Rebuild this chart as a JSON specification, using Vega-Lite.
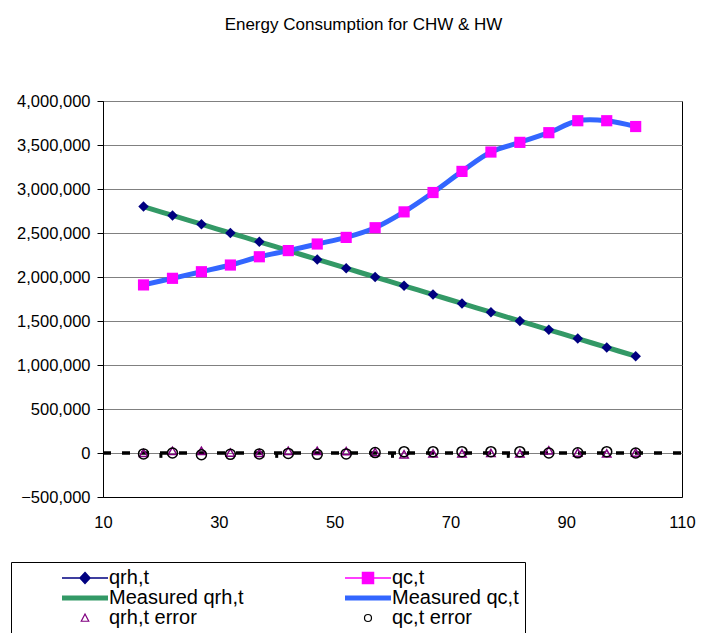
{
  "$schema": "https://vega.github.io/schema/vega-lite/v6.json",
  "width": 579,
  "height": 396,
  "autosize": {"type": "none"},
  "padding": {"left": 103, "top": 101, "right": 23, "bottom": 136},
  "background": "white",
  "config": {
    "font": "Liberation Sans",
    "view": {"stroke": "#000", "strokeWidth": 1},
    "axis": {"labelFontSize": 16.5, "labelColor": "#000", "domainColor": "#000", "tickColor": "#000", "labelFont": "Liberation Sans"}
  },
  "title": {"text": "Energy Consumption for CHW & HW", "fontSize": 17, "fontWeight": "normal", "color": "#000", "offset": 59, "dx": -29, "anchor": "middle", "font": "Liberation Sans"},
  "datasets": {
    "main": [
      {"x": 17, "qrh": 2800000, "qc": 1910000, "qrh_err": 0, "qc_err": -10000},
      {"x": 22, "qrh": 2700000, "qc": 1985000, "qrh_err": 25000, "qc_err": 0},
      {"x": 27, "qrh": 2600000, "qc": 2060000, "qrh_err": 25000, "qc_err": -20000},
      {"x": 32, "qrh": 2500000, "qc": 2136000, "qrh_err": 5000, "qc_err": -15000},
      {"x": 37, "qrh": 2400000, "qc": 2230000, "qrh_err": 0, "qc_err": -10000},
      {"x": 42, "qrh": 2300000, "qc": 2300000, "qrh_err": 25000, "qc_err": -5000},
      {"x": 47, "qrh": 2200000, "qc": 2375000, "qrh_err": 25000, "qc_err": -15000},
      {"x": 52, "qrh": 2100000, "qc": 2450000, "qrh_err": 20000, "qc_err": -10000},
      {"x": 57, "qrh": 2000000, "qc": 2560000, "qrh_err": 10000, "qc_err": 5000},
      {"x": 62, "qrh": 1900000, "qc": 2740000, "qrh_err": -15000, "qc_err": 15000},
      {"x": 67, "qrh": 1800000, "qc": 2960000, "qrh_err": -5000, "qc_err": 15000},
      {"x": 72, "qrh": 1700000, "qc": 3200000, "qrh_err": -5000, "qc_err": 15000},
      {"x": 77, "qrh": 1600000, "qc": 3420000, "qrh_err": 0, "qc_err": 15000},
      {"x": 82, "qrh": 1500000, "qc": 3530000, "qrh_err": -5000, "qc_err": 15000},
      {"x": 87, "qrh": 1400000, "qc": 3640000, "qrh_err": 30000, "qc_err": 0},
      {"x": 92, "qrh": 1300000, "qc": 3776000, "qrh_err": 5000, "qc_err": 2000},
      {"x": 97, "qrh": 1200000, "qc": 3776000, "qrh_err": -5000, "qc_err": 15000},
      {"x": 102, "qrh": 1100000, "qc": 3710000, "qrh_err": 5000, "qc_err": 0}
    ],
    "zero": [{"x": 10, "y": 0}, {"x": 110, "y": 0}],
    "ticks": [{"x": 20}, {"x": 40}, {"x": 60}, {"x": 80}]
  },
  "encoding": {
    "x": {
      "field": "x", "type": "quantitative", "title": null,
      "scale": {"domain": [10, 110], "nice": false, "zero": false},
      "axis": {"orient": "bottom", "values": [10, 30, 50, 70, 90, 110], "grid": false, "ticks": false, "labelPadding": 17, "labelFlush": false}
    }
  },
  "layer": [
    {
      "data": {"name": "main"},
      "mark": {"type": "line", "interpolate": "catmull-rom", "strokeWidth": 5},
      "encoding": {
        "y": {
          "field": "qrh", "type": "quantitative", "title": null,
          "scale": {"domain": [-500000, 4000000], "nice": false, "zero": false},
          "axis": {"values": [-500000, 0, 500000, 1000000, 1500000, 2000000, 2500000, 3000000, 3500000, 4000000], "format": ",d", "gridColor": "#808080", "gridWidth": 1, "gridOpacity": 1, "tickSize": 6, "labelPadding": 7}
        },
        "color": {
          "datum": "Measured qrh,t",
          "scale": {
            "domain": ["qrh,t", "qc,t", "Measured qrh,t", "Measured qc,t", "qrh,t error", "qc,t error"],
            "range": ["#000080", "#ff00ff", "#339966", "#3366ff", "#800080", "#000000"]
          },
          "legend": {
            "title": null, "orient": "none", "legendX": -92, "legendY": 461,
            "columns": 2, "direction": "horizontal",
            "symbolSize": 100, "symbolOffset": 58, "labelOffset": 14,
            "labelFontSize": 20, "labelColor": "#000", "labelFont": "Liberation Sans", "labelLimit": 0,
            "rowPadding": -2, "columnPadding": 56, "padding": 6,
            "strokeColor": "#000", "fillColor": "#fff",
            "encode": {
              "symbols": {
                "update": {
                  "shape": {"signal": "datum.value == 'qrh,t' ? 'M-4.6,0H4.6M0,-1.1L1,0L0,1.1L-1,0Z' : datum.value == 'qc,t' ? 'M-4.6,0H4.6M-1.1,-1.1H1.1V1.1H-1.1Z' : datum.value == 'qrh,t error' ? 'M0,-0.8L0.75,0.65L-0.75,0.65Z' : datum.value == 'qc,t error' ? 'M-0.7,0A0.7,0.7,0,1,0,0.7,0A0.7,0.7,0,1,0,-0.7,0Z' : 'M-4.6,0H4.6'"},
                  "fill": {"signal": "datum.value == 'qrh,t' ? '#000080' : datum.value == 'qc,t' ? '#ff00ff' : '#ffffff'"},
                  "fillOpacity": {"signal": "datum.value == 'qrh,t' || datum.value == 'qc,t' ? 1 : 0"},
                  "stroke": {"signal": "datum.value == 'qrh,t' ? '#000080' : datum.value == 'qc,t' ? '#ff00ff' : datum.value == 'Measured qrh,t' ? '#339966' : datum.value == 'Measured qc,t' ? '#3366ff' : datum.value == 'qrh,t error' ? '#800080' : '#000000'"},
                  "strokeWidth": {"signal": "datum.value == 'Measured qrh,t' || datum.value == 'Measured qc,t' ? 5 : (datum.value == 'qrh,t' || datum.value == 'qc,t' ? 1.5 : 1.2)"}
                }
              }
            }
          }
        }
      }
    },
    {
      "data": {"name": "main"},
      "mark": {"type": "line", "interpolate": "catmull-rom", "strokeWidth": 5},
      "encoding": {
        "y": {"field": "qc", "type": "quantitative", "title": null},
        "color": {"datum": "Measured qc,t"}
      }
    },
    {
      "data": {"name": "zero"},
      "mark": {"type": "line", "strokeDash": [8, 11], "strokeWidth": 3.5, "color": "#000"},
      "encoding": {
        "y": {"field": "y", "type": "quantitative", "title": null}
      }
    },
    {
      "data": {"name": "ticks"},
      "mark": {"type": "rule", "strokeWidth": 3, "color": "#000"},
      "encoding": {
        "y": {"datum": 0},
        "y2": {"datum": -55000}
      }
    },
    {
      "data": {"name": "main"},
      "mark": {"type": "point", "shape": "triangle-up", "filled": false, "strokeWidth": 1.5, "size": 70, "opacity": 1},
      "encoding": {
        "y": {"field": "qrh_err", "type": "quantitative", "title": null},
        "color": {"datum": "qrh,t error"}
      }
    },
    {
      "data": {"name": "main"},
      "mark": {"type": "point", "shape": "circle", "filled": false, "strokeWidth": 1.5, "size": 100, "opacity": 1},
      "encoding": {
        "y": {"field": "qc_err", "type": "quantitative", "title": null},
        "color": {"datum": "qc,t error"}
      }
    },
    {
      "data": {"name": "main"},
      "mark": {"type": "point", "shape": "diamond", "filled": true, "size": 110, "opacity": 1},
      "encoding": {
        "y": {"field": "qrh", "type": "quantitative", "title": null},
        "color": {"datum": "qrh,t"}
      }
    },
    {
      "data": {"name": "main"},
      "mark": {"type": "point", "shape": "square", "filled": true, "size": 125, "opacity": 1},
      "encoding": {
        "y": {"field": "qc", "type": "quantitative", "title": null},
        "color": {"datum": "qc,t"}
      }
    }
  ]
}
